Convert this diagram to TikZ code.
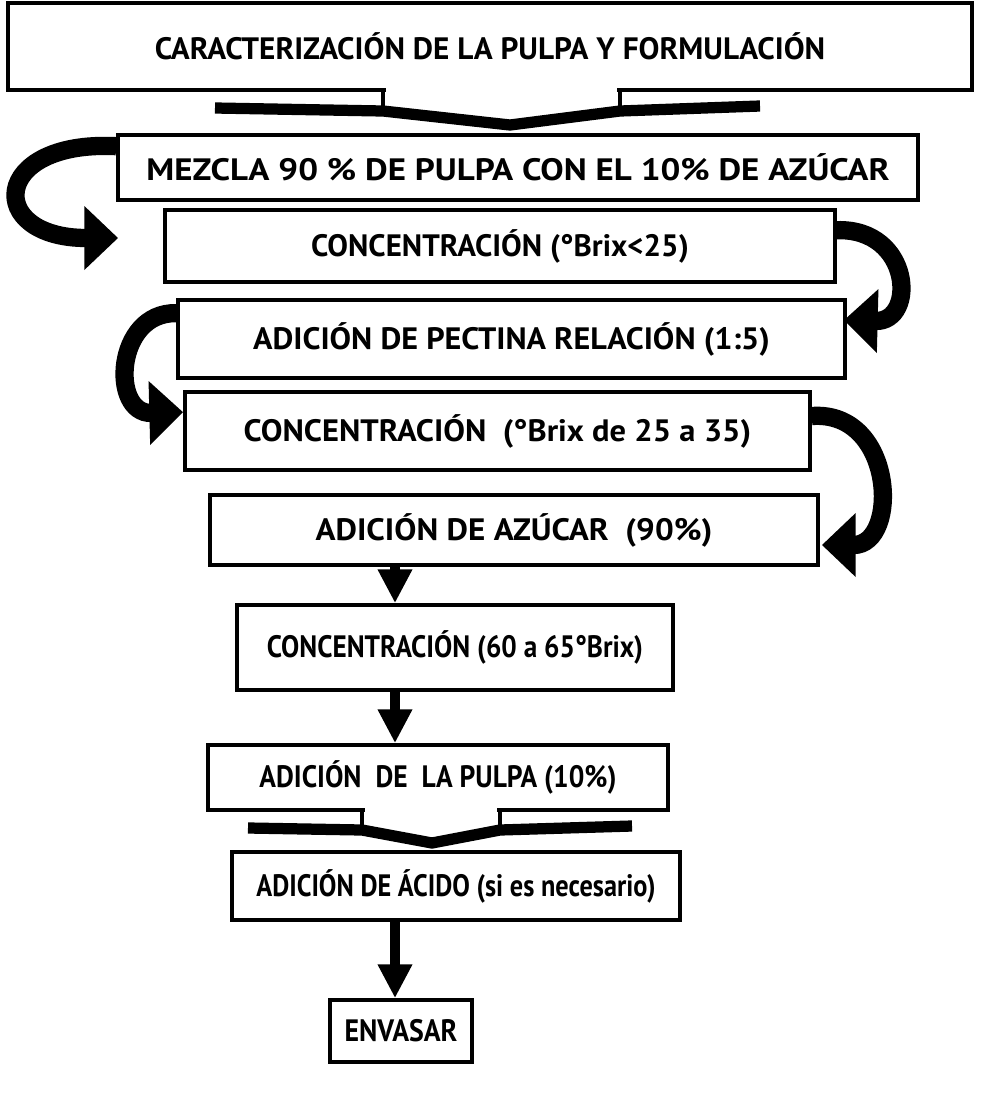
\documentclass[tikz,border=0pt]{standalone}
\usepackage{fontspec}
\usepackage{graphicx}
\setmainfont{PT Sans}
\usetikzlibrary{arrows.meta,calc}
\begin{document}
\begin{tikzpicture}[x=0.025cm,y=-0.025cm,
  box/.style={draw=black, line width=2.6pt, inner sep=0pt, fill=white,
              font=\bfseries\fontsize{22}{24}\selectfont},
  curvarrow/.style={line width=13pt, -{Triangle[length=24pt,width=44pt]}},
  downarrow/.style={line width=7pt, -{Triangle[length=24pt,width=23pt]}},
  brace/.style={line width=8pt, line join=round},
  braceleg/.style={line width=2.2pt}]
\useasboundingbox (0,0) rectangle (1001,1107);
\fill[white] (0,0) rectangle (1001,1107);

% boxes
\node[box, minimum width=24.1cm,  minimum height=2.175cm] (b1) at (490,46.5)
  {\scalebox{1.01}[1]{CARACTERIZACIÓN DE LA PULPA Y FORMULACIÓN}};
\node[box, minimum width=20cm,    minimum height=1.625cm] (b2) at (518,167.5)
  {\scalebox{1.13}[1]{MEZCLA 90 \% DE PULPA CON EL 10\% DE AZÚCAR}};
\node[box, minimum width=16.75cm, minimum height=1.8cm]   (b3) at (500,246)
  {\scalebox{1.0}[1]{CONCENTRACIÓN (°Brix<25)}};
\node[box, minimum width=16.675cm,minimum height=1.95cm]  (b4) at (511.5,339)
  {\scalebox{1.04}[1]{ADICIÓN DE PECTINA RELACIÓN (1:5)}};
\node[box, minimum width=15.625cm,minimum height=1.95cm]  (b5) at (497.5,431)
  {\scalebox{1.05}[1]{CONCENTRACIÓN \ (°Brix de 25 a 35)}};
\node[box, minimum width=15.2cm,  minimum height=1.75cm]  (b6) at (514,530)
  {\scalebox{1.07}[1]{ADICIÓN DE AZÚCAR \ (90\%)}};
\node[box, minimum width=10.9cm,  minimum height=2.125cm] (b7) at (455,647.5)
  {\scalebox{0.88}[1]{CONCENTRACIÓN (60 a 65°Brix)}};
\node[box, minimum width=11.5cm,  minimum height=1.625cm] (b8) at (438,777.5)
  {\scalebox{0.89}[1]{ADICIÓN \ DE \ LA PULPA (10\%)}};
\node[box, minimum width=11.2cm,  minimum height=1.7cm]   (b9) at (456,886)
  {\scalebox{0.85}[1]{ADICIÓN DE ÁCIDO (si es necesario)}};
\node[box, minimum width=3.55cm,  minimum height=1.55cm]  (b10) at (401,1031)
  {\scalebox{0.9}[1]{ENVASAR}};

% bracket below box 1
\coordinate (k1l) at (383,111);
\coordinate (k1r) at (620,111);
\fill[white] ($(k1l |- b1.south)+(3,-4)$) rectangle ($(k1r |- b1.south)+(-3,4)$);
\draw[braceleg] (k1l |- b1.south) -- (k1l);
\draw[braceleg] (k1r |- b1.south) -- (k1r);
\draw[brace] (215,108) -- (k1l) -- (510,125) -- (k1r) -- (760,106);

% bracket below box 8
\coordinate (k2l) at (362,830);
\coordinate (k2r) at (500,830);
\fill[white] ($(k2l |- b8.south)+(3,-4)$) rectangle ($(k2r |- b8.south)+(-3,4)$);
\draw[braceleg] (k2l |- b8.south) -- (k2l);
\draw[braceleg] (k2r |- b8.south) -- (k2r);
\draw[brace] (248,828) -- (k2l) -- (432,843) -- (k2r) -- (632,826);

% curved arrows
\coordinate (t1) at ([shift={(-45,-8)}]b3.west);
\draw[curvarrow] ([shift={(0,13)}]b2.north west) .. controls (-10,140) and (-15,238) .. (t1);

\coordinate (t2) at ([shift={(-3,22)}]b4.north east);
\draw[curvarrow] ([shift={(0,22)}]b3.north east) .. controls (912,228) and (917,322) .. (t2);

\coordinate (t3) at ([shift={(0,22)}]b5.north west);
\draw[curvarrow] ([shift={(0,15)}]b4.north west) .. controls (115,312) and (110,414) .. (t3);

\coordinate (t4) at ([shift={(2,15)}]b6.east);
\draw[curvarrow] ([shift={(0,-15)}]b5.east) .. controls (895,410) and (900,545) .. (t4);

% straight arrows
\coordinate (a1) at (395,0);
\draw[downarrow] (b6.south -| a1) -- (b7.north -| a1);
\draw[downarrow] (b7.south -| a1) -- (b8.north -| a1);
\draw[downarrow] (b9.south -| a1) -- (b10.north -| a1);
\end{tikzpicture}
\end{document}
